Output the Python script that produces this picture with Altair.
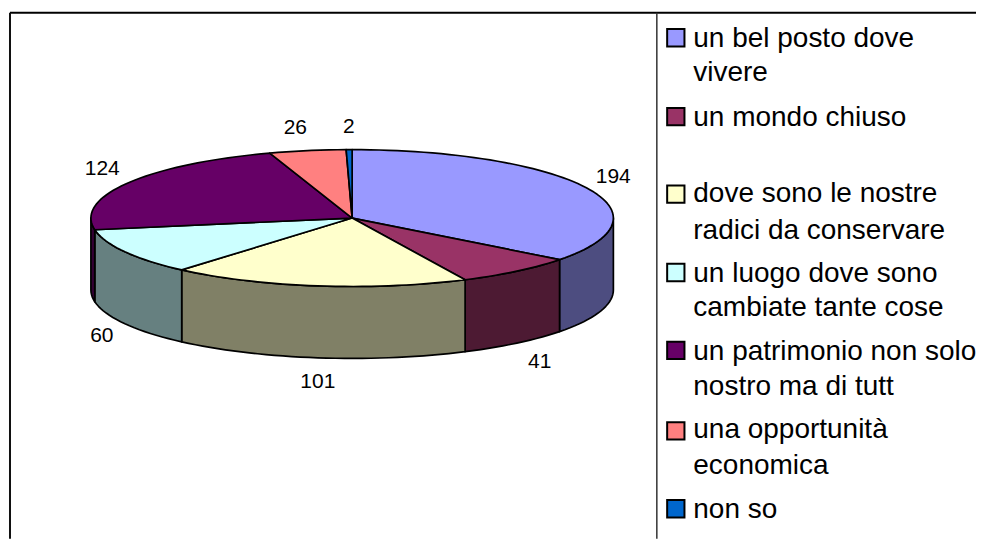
import math
import altair as alt

# ---- data ----
categories = ["un bel posto dove vivere", "un mondo chiuso",
              "dove sono le nostre radici da conservare",
              "un luogo dove sono cambiate tante cose",
              "un patrimonio non solo nostro ma di tutt",
              "una opportunità economica", "non so"]
values = [194, 41, 101, 60, 124, 26, 2]
top_colors = ["#9999FF", "#993366", "#FFFFCC", "#CCFFFF", "#660066", "#FF8080", "#0066CC"]
side_colors = ["#4D4D80", "#4D1A33", "#808066", "#668080", "#330033", "#804040", "#003366"]
legend_lines = [["un bel posto dove", "vivere"], ["un mondo chiuso"],
                ["dove sono le nostre", "radici da conservare"],
                ["un luogo dove sono", "cambiate tante cose"],
                ["un patrimonio non solo", "nostro ma di tutt"],
                ["una opportunità", "economica"], ["non so"]]

# ---- layout (plot-area pixels; the page margin is 8) ----
W, H = 969, 531
CX, CY, RX, RY, DEPTH = 344.5, 210, 261.5, 68.5, 72
LABEL_DX, LABEL_DY = 30, 24
LABEL_NUDGE = [(0, 0), (4, 0), (4, 0), (3, 0), (0, -2), (-7, 1), (0, 1)]
LEGEND_Y = [29.5, 108.5, 186, 264.5, 342.5, 423, 501]
LINE_Y = [[31, 65], [110], [186, 223], [266, 300], [344, 379], [422, 458], [502]]
SWATCH_X, TEXT_X = 668.5, 686
FRAME_LEFT, FRAME_TOP, DIVIDER = 2, 4.5, 649.5


def pt(theta, drop=0.0):
    return [CX + RX * math.sin(theta), CY - RY * math.cos(theta) + drop]


def arc_points(a, b, drop=0.0):
    n = max(2, int(abs(b - a) / math.radians(2)) + 2)
    return [pt(a + (b - a) * i / (n - 1), drop) for i in range(n)]


total = sum(values)
tops, sides, labels = [], [], []
start = 0.0
for i, v in enumerate(values):
    end = start + 2 * math.pi * v / total
    ring = [[CX, CY]] + arc_points(start, end) + [[CX, CY]]
    tops.append({"type": "Feature", "properties": {"fill": top_colors[i]},
                 "geometry": {"type": "Polygon", "coordinates": [ring]}})
    a, b = max(start, math.pi / 2), min(end, 3 * math.pi / 2)
    if a < b:
        wall = arc_points(a, b) + arc_points(b, a, DEPTH)
        wall.append(wall[0])
        sides.append({"type": "Feature", "properties": {"fill": side_colors[i]},
                      "geometry": {"type": "Polygon", "coordinates": [wall]}})
    mid = (start + end) / 2
    front = math.cos(mid) < 0
    labels.append({
        "x": CX + (RX + LABEL_DX) * math.sin(mid) + LABEL_NUDGE[i][0],
        "y": CY - (RY + LABEL_DY) * math.cos(mid) + (DEPTH if front else 0) + LABEL_NUDGE[i][1],
        "t": str(v)})
    start = end

x_s = alt.Scale(domain=[0, W], range=[0, W], nice=False)
y_s = alt.Scale(domain=[0, H], range=[0, H], nice=False)
X = alt.X("x:Q", scale=x_s, axis=None)
Y = alt.Y("y:Q", scale=y_s, axis=None)
proj = alt.Projection(type="identity", scale=1, translate=[0, 0])


def shapes(features):
    return alt.Chart(alt.Data(values=features)).mark_geoshape(
        stroke="black", strokeWidth=1.7, strokeJoin="round"
    ).encode(fill=alt.Fill("properties.fill:N", scale=None, legend=None)).project(**proj.to_dict())


frame_h = alt.Chart(alt.Data(values=[{"x": FRAME_LEFT, "x2": W, "y": FRAME_TOP}])).mark_rule(
    color="black", strokeWidth=2).encode(x=X, x2="x2:Q", y=Y)
frame_v = alt.Chart(alt.Data(values=[
    {"x": FRAME_LEFT, "y": FRAME_TOP, "y2": H, "c": "#111111", "w": 2},
    {"x": DIVIDER, "y": FRAME_TOP, "y2": H, "c": "#333333", "w": 1.5}])).mark_rule().encode(
    x=X, y=Y, y2="y2:Q",
    color=alt.Color("c:N", scale=None, legend=None),
    strokeWidth=alt.StrokeWidth("w:Q", scale=None, legend=None))

value_text = alt.Chart(alt.Data(values=labels)).mark_text(
    font="Liberation Sans", fontSize=21, color="black", align="center", baseline="middle"
).encode(x=X, y=Y, text="t:N")

swatches = alt.Chart(alt.Data(values=[
    {"x": SWATCH_X, "y": LEGEND_Y[i], "c": top_colors[i], "n": categories[i]}
    for i in range(len(categories))])).mark_square(
    size=300, stroke="black", strokeWidth=2, opacity=1).encode(
    x=X, y=Y, fill=alt.Fill("c:N", scale=None, legend=None))

legend_text = alt.Chart(alt.Data(values=[
    {"x": TEXT_X, "y": LINE_Y[i][j], "t": legend_lines[i][j]}
    for i in range(len(legend_lines)) for j in range(len(legend_lines[i]))])).mark_text(
    font="Liberation Sans", fontSize=28, color="black", align="left", baseline="middle"
).encode(x=X, y=Y, text="t:N")

chart = alt.layer(
    shapes(sides), shapes(tops), frame_h, frame_v, value_text, swatches, legend_text
).resolve_scale(x="shared", y="shared").properties(
    width=W, height=H, padding=0, background="white"
).configure_view(stroke=None)

chart.save("out.html", embed_options={"renderer": "svg", "actions": False})
